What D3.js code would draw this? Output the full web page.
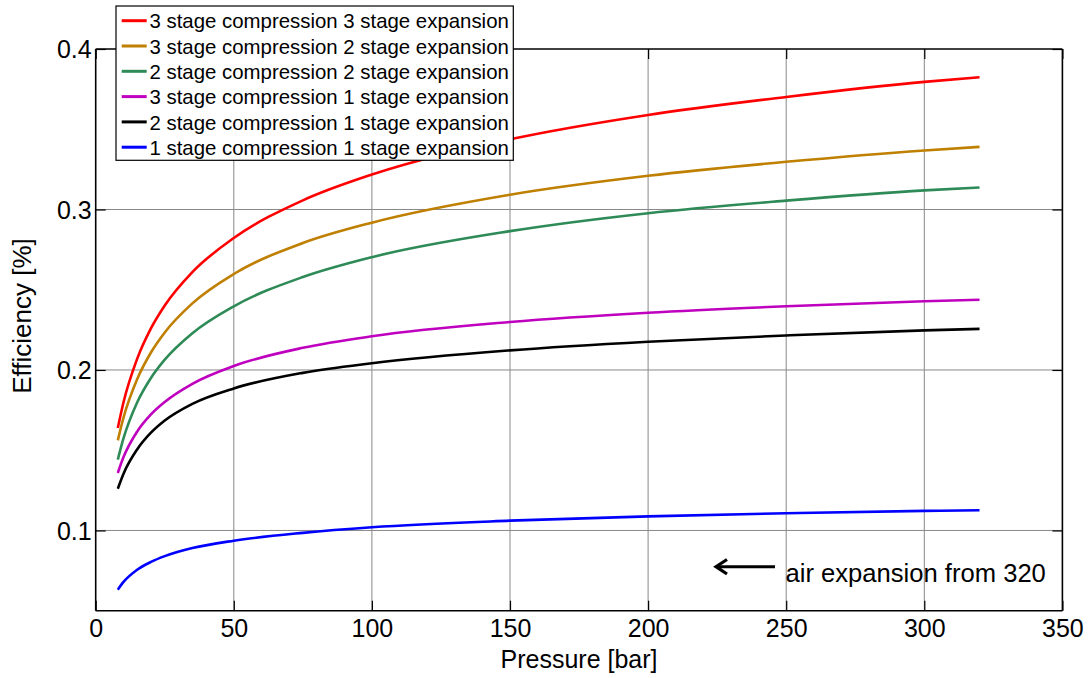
<!DOCTYPE html>
<html>
<head>
<meta charset="utf-8">
<script src="https://cdn.jsdelivr.net/npm/d3@7"></script>
<style>
  html, body { margin: 0; padding: 0; background: #fff; }
  svg { display: block; }
  text { font-family: "Liberation Sans", Arial, Helvetica, sans-serif; fill: #000; }
</style>
</head>
<body>
<svg id="chart" width="1091" height="678"></svg>
<script>
// ---- data ----
const pressure = [8, 10, 15, 20, 25, 35, 50, 75, 100, 150, 200, 250, 300, 320];
const c3e3 = [0.1638, 0.1794, 0.2069, 0.2259, 0.2402, 0.2610, 0.2822, 0.3057, 0.3218, 0.3437, 0.3589, 0.3701, 0.3795, 0.3824];
const c3e2 = [0.1561, 0.1699, 0.1942, 0.2109, 0.2234, 0.2415, 0.2598, 0.2791, 0.2918, 0.3092, 0.3210, 0.3297, 0.3368, 0.3390];
const c2e2 = [0.1441, 0.1570, 0.1797, 0.1950, 0.2064, 0.2229, 0.2397, 0.2579, 0.2703, 0.2865, 0.2977, 0.3055, 0.3119, 0.3137];
const c3e1 = [0.1358, 0.1454, 0.1616, 0.1723, 0.1801, 0.1914, 0.2025, 0.2138, 0.2210, 0.2299, 0.2357, 0.2397, 0.2428, 0.2438];
const c2e1 = [0.1260, 0.1351, 0.1505, 0.1609, 0.1685, 0.1789, 0.1885, 0.1982, 0.2042, 0.2122, 0.2176, 0.2215, 0.2247, 0.2256];
const c1e1 = [0.0631, 0.0678, 0.0755, 0.0804, 0.0840, 0.0890, 0.0936, 0.0985, 0.1020, 0.1061, 0.1088, 0.1107, 0.1122, 0.1126];
const seriesNames = [
  "3 stage compression 3 stage expansion",
  "3 stage compression 2 stage expansion",
  "2 stage compression 2 stage expansion",
  "3 stage compression 1 stage expansion",
  "2 stage compression 1 stage expansion",
  "1 stage compression 1 stage expansion"
];
const seriesColors = ["#ff0000", "#bf7f00", "#2e8b57", "#bf00bf", "#000000", "#0000ff"];
const xTicks = [0, 50, 100, 150, 200, 250, 300, 350];
const yTicks = [0.1, 0.2, 0.3, 0.4];
const xLabel = "Pressure [bar]";
const yLabel = "Efficiency [%]";
const annotation = "air expansion from 320";

const allSeries = [c3e3, c3e2, c2e2, c3e1, c2e1, c1e1];

// ---- layout ----
const svg = d3.select("#chart");
const L = 95.7, R = 1062.4, T = 49, B = 610.7;
const x = d3.scaleLinear().domain([0, 350]).range([L, R]);
const y = d3.scaleLinear().domain([0.05, 0.4]).range([B, T]);

// grid
const grid = svg.append("g");
grid.selectAll("line.gx").data(xTicks.filter(d => d > 0 && d < 350)).enter().append("line")
  .attr("x1", d => x(d)).attr("x2", d => x(d)).attr("y1", T).attr("y2", B)
  .attr("stroke", "#888").attr("stroke-width", 1);
grid.selectAll("line.gy").data(yTicks.filter(d => d < 0.4)).enter().append("line")
  .attr("x1", L).attr("x2", R).attr("y1", d => y(d)).attr("y2", d => y(d))
  .attr("stroke", "#888").attr("stroke-width", 1);

// series
const line = d3.line().x((d, i) => x(pressure[i])).y(d => y(d)).curve(d3.curveMonotoneX);
allSeries.forEach((s, k) => {
  svg.append("path").datum(s).attr("d", line)
    .attr("fill", "none").attr("stroke", seriesColors[k]).attr("stroke-width", 2.6)
    .attr("stroke-linejoin", "round").attr("stroke-linecap", "butt");
});

// axes (inward ticks, box)
const fontSize = 25;
const xAxisB = d3.axisBottom(x).tickValues(xTicks).tickSize(-10).tickPadding(14).tickFormat(d3.format("d"));
const xAxisT = d3.axisTop(x).tickValues(xTicks).tickSize(-10).tickFormat("");
const yAxisL = d3.axisLeft(y).tickValues(yTicks).tickSize(-10).tickPadding(14).tickFormat(d3.format(".1f"));
const yAxisR = d3.axisRight(y).tickValues(yTicks).tickSize(-10).tickFormat("");

function styleAxis(g) {
  g.selectAll("path").attr("stroke", "#000").attr("stroke-width", 1.6);
  g.selectAll("line").attr("stroke", "#000").attr("stroke-width", 1.2);
  g.selectAll("text").attr("font-size", fontSize).attr("font-family", "Liberation Sans, Arial, sans-serif").attr("fill", "#000");
}
const gxb = svg.append("g").attr("transform", `translate(0,${B})`).call(xAxisB).call(styleAxis);
gxb.selectAll("path").attr("d", `M${L},0H${R}`);
gxb.selectAll("text").attr("dy", null).attr("y", 26);
const gxt = svg.append("g").attr("transform", `translate(0,${T})`).call(xAxisT).call(styleAxis);
gxt.selectAll("path").attr("d", `M${L},0H${R}`);
const gyl = svg.append("g").attr("transform", `translate(${L},0)`).call(yAxisL).call(styleAxis);
gyl.selectAll("path").attr("d", `M0,${B}V${T}`);
gyl.selectAll("text").attr("x", -4).attr("dy", "0.35em");
const gyr = svg.append("g").attr("transform", `translate(${R},0)`).call(yAxisR).call(styleAxis);
gyr.selectAll("path").attr("d", `M0,${B}V${T}`);

// axis labels
svg.append("text").attr("x", (L + R) / 2).attr("y", 668).attr("text-anchor", "middle")
  .attr("font-size", fontSize).text(xLabel);
svg.append("text").attr("transform", "translate(31,316) rotate(-90)").attr("text-anchor", "middle")
  .attr("font-size", 26).text(yLabel);

// annotation
svg.append("path").attr("d", "M775,566.7H717").attr("stroke", "#000").attr("stroke-width", 3).attr("fill", "none");
svg.append("path").attr("d", "M727,559.5L716,566.7L727,574").attr("stroke", "#000").attr("stroke-width", 3.2)
  .attr("fill", "none").attr("stroke-linejoin", "miter");
svg.append("text").attr("x", 785.5).attr("y", 581.5).attr("font-size", 25.6).text(annotation);

// legend
const lg = svg.append("g");
lg.append("rect").attr("x", 116).attr("y", 6).attr("width", 397.3).attr("height", 154.3)
  .attr("fill", "#fff").attr("stroke", "#000").attr("stroke-width", 1.2);
seriesNames.forEach((n, i) => {
  const yy = 20.7 + i * 25.3;
  lg.append("line").attr("x1", 121.7).attr("x2", 146.7).attr("y1", yy).attr("y2", yy)
    .attr("stroke", seriesColors[i]).attr("stroke-width", 3);
  lg.append("text").attr("x", 149.5).attr("y", yy + 7.6).attr("font-size", 20.4).text(n);
});
</script>
</body>
</html>
